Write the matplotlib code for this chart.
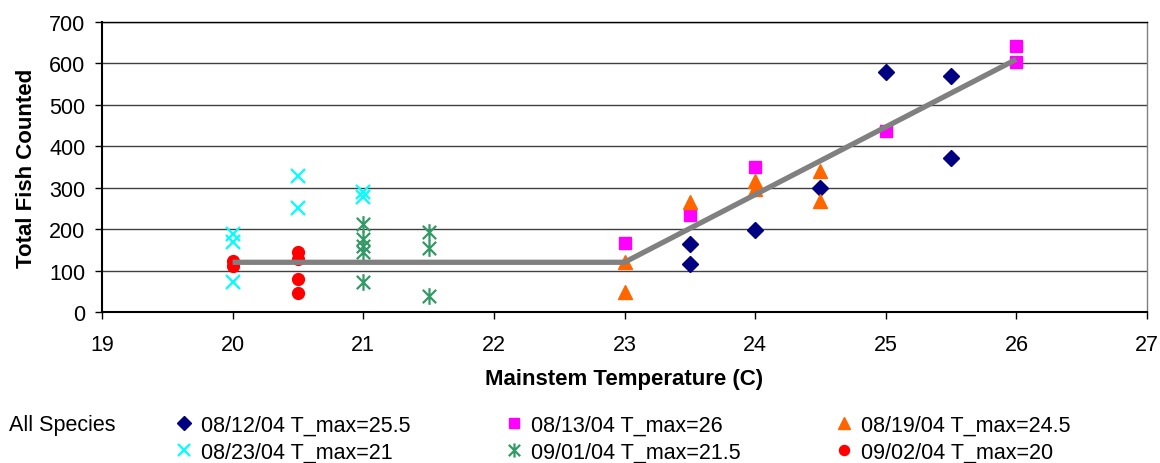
import matplotlib
matplotlib.use("Agg")
import matplotlib.pyplot as plt
from matplotlib.path import Path

plt.rcParams['font.family'] = ['Liberation Sans', 'DejaVu Sans']

# Survey series: mainstem temperature (C) and total fish counted
t_0812 = [23.5, 23.5, 24, 24.5, 25, 25.5, 25.5]
n_0812 = [164, 116, 198, 299, 580, 570, 372]

t_0813 = [23, 23.5, 24, 25, 26, 26]
n_0813 = [167, 234, 351, 438, 643, 603]

t_0819 = [23, 23, 23.5, 24, 24, 24.5, 24.5]
n_0819 = [120, 48, 266, 317, 297, 341, 269]

t_0823 = [20, 20, 20, 20.5, 20.5, 21, 21]
n_0823 = [188, 168, 72, 329, 251, 290, 277]

t_0901 = [21, 21, 21, 21, 21, 21.5, 21.5, 21.5]
n_0901 = [212, 176, 160, 144, 72, 192, 154, 38]

t_0902 = [20, 20, 20.5, 20.5, 20.5, 20.5]
n_0902 = [124, 112, 144, 128, 80, 46]

# Piecewise threshold fit
fit_t = [20, 23, 26]
fit_n = [120, 120, 610]

labels = ["08/12/04 T_max=25.5", "08/13/04 T_max=26", "08/19/04 T_max=24.5",
          "08/23/04 T_max=21", "09/01/04 T_max=21.5", "09/02/04 T_max=20"]

x_ticks = [19, 20, 21, 22, 23, 24, 25, 26, 27]
y_ticks = [0, 100, 200, 300, 400, 500, 600, 700]

# six-armed star marker: an X with a vertical stroke
star_path = Path(
    [(-1, -1), (1, 1), (-1, 1), (1, -1), (0, -1.25), (0, 1.25)],
    [Path.MOVETO, Path.LINETO, Path.MOVETO, Path.LINETO, Path.MOVETO, Path.LINETO])

W, H = 1160, 464
fig = plt.figure(figsize=(W / 100, H / 100), dpi=100)
ax = fig.add_axes([102 / W, 1 - 313 / H, (1147 - 102) / W, (313 - 23) / H])

h1, = ax.plot(t_0812, n_0812, ls='none', marker='D', ms=8, color='#000080', mec='#000080', label=labels[0])
h2, = ax.plot(t_0813, n_0813, ls='none', marker='s', ms=8.5, color='#FF00FF', mec='#FF00FF', label=labels[1])
h3, = ax.plot(t_0819, n_0819, ls='none', marker='^', ms=10.5, color='#FF6600', mec='#FF6600', label=labels[2])
h4, = ax.plot(t_0823, n_0823, ls='none', marker='x', ms=9.5, mew=1.6, color='#00FFFF', label=labels[3])
h5, = ax.plot(t_0901, n_0901, ls='none', marker=star_path, ms=12, mew=1.6, color='#339966', mfc='none', label=labels[4])
h6, = ax.plot(t_0902, n_0902, ls='none', marker='o', ms=8.5, color='#FF0000', mec='#FF0000', label=labels[5])
ax.plot(fit_t, fit_n, color='#808080', lw=3.8, solid_capstyle='butt', zorder=5)

ax.set_xlim(19, 27)
ax.set_ylim(0, 700)
ax.set_xticks(x_ticks)
ax.set_yticks(y_ticks)
ax.tick_params(labelsize=15.5, length=5, width=1, color='black')
ax.tick_params(axis='x', pad=11)
ax.tick_params(axis='y', pad=7)
ax.yaxis.grid(True, color='#404040', lw=1)
ax.set_axisbelow(True)
for side in ('left', 'bottom'):
    ax.spines[side].set_color('black')
    ax.spines[side].set_linewidth(1.5)
ax.spines['top'].set_color('black')
ax.spines['top'].set_linewidth(1)
ax.spines['right'].set_color('#808080')
ax.spines['right'].set_linewidth(1)

ax.set_xlabel('Mainstem Temperature (C)', fontsize=16, fontweight='bold', labelpad=9)
ax.set_ylabel('Total Fish Counted', fontsize=16, fontweight='bold', labelpad=9)

fig.text(9 / W, 1 - 426 / H, 'All Species', fontsize=15.5, va='center', ha='left')

handles = [h1, h4, h2, h5, h3, h6]
fig.legend(handles=handles, labels=[h.get_label() for h in handles], ncol=3,
           loc='upper left', bbox_to_anchor=(175 / W, 1 - 415.5 / H),
           frameon=False, fontsize=15.5, handlelength=0.8, handletextpad=0.4,
           columnspacing=4.4, labelspacing=0.27, markerscale=0.85,
           borderaxespad=0, borderpad=0)

fig.savefig('out.png', dpi=100)
